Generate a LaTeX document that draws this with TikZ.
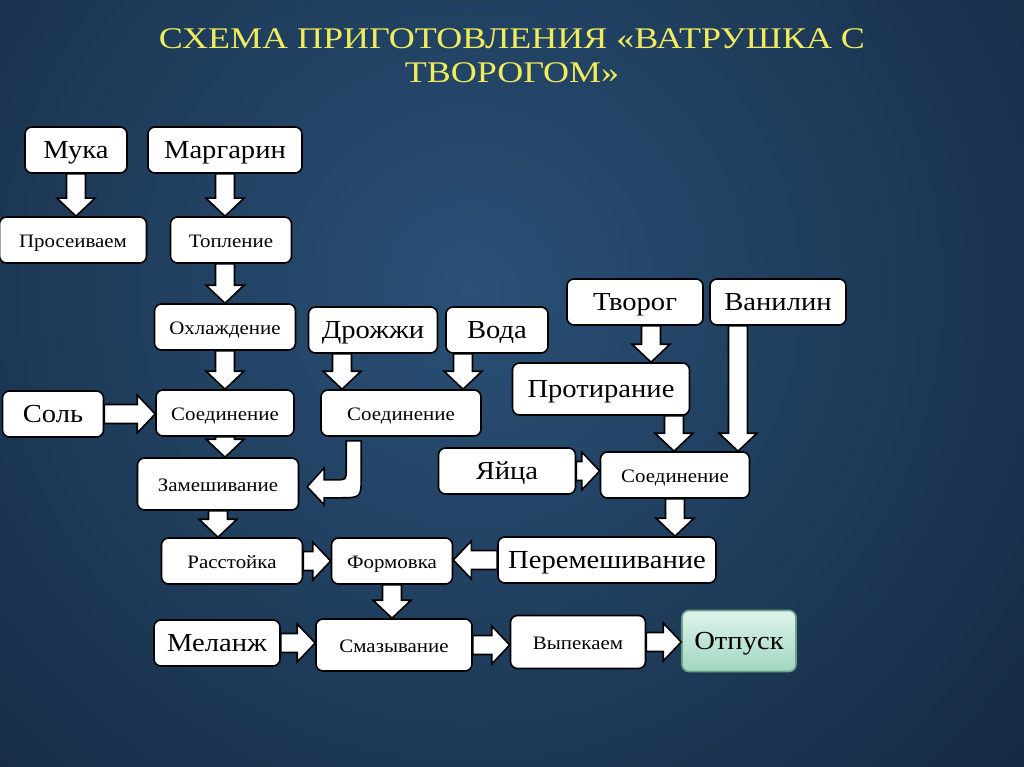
\documentclass[tikz,border=0pt]{standalone}
\usepackage{fontspec}
\setmainfont[FakeStretch=1.1]{Liberation Serif}
\newfontfamily\ttlfont[FakeStretch=1.2]{Liberation Serif}
\usetikzlibrary{calc}

\definecolor{ttlyel}{RGB}{241,236,92}
\definecolor{bgin}{RGB}{42,80,118}
\definecolor{bgout}{RGB}{9,20,36}
\definecolor{mintT}{RGB}{222,244,235}
\definecolor{mintB}{RGB}{160,214,192}

% block arrow from #1 to #2 (coordinates, no parentheses)
\newcommand{\blockar}[2]{%
  \coordinate (ba) at (#1);
  \coordinate (bb) at (#2);
  \coordinate (bh) at ($(bb)!18pt!(ba)$);
  \draw[barr] ($(ba)!9.5pt!90:(bb)$) -- ($(bh)!9.5pt!90:(bb)$)
    -- ($(bh)!19pt!90:(bb)$) -- (bb) -- ($(bh)!19pt!-90:(bb)$)
    -- ($(bh)!9.5pt!-90:(bb)$) -- ($(ba)!9.5pt!-90:(bb)$) -- cycle;
}

\tikzset{
  box/.style={draw=black, line width=1.6pt, fill=white, rounded corners=7pt,
    minimum height=46pt, inner sep=2pt, text=black},
  big/.style={font=\fontsize{26}{28}\selectfont, text height=20pt, text depth=3pt},
  sml/.style={font=\fontsize{19}{22}\selectfont, text height=17pt, text depth=2pt},
  otp/.style={draw={rgb,255:red,110;green,160;blue,140}, top color=mintT, bottom color=mintB},
  barr/.style={draw=black, line width=1.6pt, fill=white, line join=miter},
  ttl/.style={text=ttlyel, align=center, font=\ttlfont\fontsize{30}{34}\selectfont}
}

\begin{document}
\begin{tikzpicture}[x=1pt,y=-1pt]

\useasboundingbox (0,0) rectangle (1024,767);
\begin{scope}
\clip (0,0) rectangle (1024,767);
\fill[bgout] (0,0) rectangle (1024,767);
\shade[inner color=bgin, outer color=bgout] (470,290) circle (1150);
\end{scope}

\node[ttl] (title) at (512,56) {СХЕМА ПРИГОТОВЛЕНИЯ «ВАТРУШКА С\\ТВОРОГОМ»};

% dough
\node[box,big,minimum width=102] (muka) at (76,150) {Мука};
\node[box,big,minimum width=154] (marg) at (225,150) {Маргарин};
\node[box,sml,minimum width=147] (pros) at (73,240) {Просеиваем};
\node[box,sml,minimum width=121] (topl) at (231,240) {Топление};
\node[box,sml,minimum width=141] (ohl) at (225,327) {Охлаждение};
\node[box,big,minimum width=129] (drozh) at (373,330) {Дрожжи};
\node[box,big,minimum width=102] (voda) at (497,330) {Вода};
\node[box,big,minimum width=101] (sol) at (53,414) {Соль};
\node[box,sml,minimum width=138] (soed1) at (225,413) {Соединение};
\node[box,sml,minimum width=160] (soed2) at (401,413) {Соединение};
\node[box,sml,minimum width=161,minimum height=52] (zam) at (218,484) {Замешивание};
\node[box,sml,minimum width=141] (rast) at (232,561) {Расстойка};
\node[box,sml,minimum width=121] (form) at (392,561) {Формовка};

% filling
\node[box,big,minimum width=136] (tvor) at (635,302) {Творог};
\node[box,big,minimum width=136] (van) at (778,302) {Ванилин};
\node[box,big,minimum width=177,minimum height=52] (prot) at (601,389) {Протирание};
\node[box,big,minimum width=137] (yai) at (507,471) {Яйца};
\node[box,sml,minimum width=149] (soed3) at (675,475) {Соединение};
\node[box,big,minimum width=218] (perem) at (607,560) {Перемешивание};

% finishing
\node[box,big,minimum width=126] (mel) at (217,643) {Меланж};
\node[box,sml,minimum width=156,minimum height=52] (smaz) at (394,645) {Смазывание};
\node[box,sml,minimum width=135,minimum height=53] (vyp) at (578,642) {Выпекаем};
\node[box,big,otp,minimum width=114,minimum height=61] (otp) at (739,641) {Отпуск};

\coordinate (xdr) at (342,0);
\coordinate (xvo) at (463,0);
\coordinate (xtv) at (651,0);
\coordinate (xva) at (738,0);
\coordinate (xpr) at (674,0);

\blockar{muka.south}{muka.south |- pros.north}
\blockar{marg.south}{marg.south |- topl.north}
\blockar{ohl.north |- topl.south}{ohl.north}
\blockar{ohl.south}{ohl.south |- soed1.north}
\blockar{soed1.south}{soed1.south |- zam.north}
\blockar{zam.south}{zam.south |- rast.north}
\blockar{xdr |- drozh.south}{xdr |- soed2.north}
\blockar{xvo |- voda.south}{xvo |- soed2.north}
\blockar{sol.east}{sol.east -| soed1.west}
\blockar{xtv |- tvor.south}{xtv |- prot.north}
\blockar{xva |- van.south}{xva |- soed3.north}
\blockar{xpr |- prot.south}{xpr |- soed3.north}
\blockar{yai.east}{yai.east -| soed3.west}
\blockar{soed3.south}{soed3.south |- perem.north}
\blockar{rast.east}{rast.east -| form.west}
\blockar{perem.west}{perem.west -| form.east}
\blockar{form.south}{form.south |- smaz.north}
\blockar{mel.east}{mel.east -| smaz.west}
\blockar{smaz.east}{smaz.east -| vyp.west}
\blockar{vyp.east}{vyp.east -| otp.west}

% bent arrow soed2 -> zam
\draw[barr] ($(soed2.south west)+(26,4)$) -- ++(0,29)
  .. controls +(0,10) .. ++(-10,10) -- ++(-12,0) -- ++(0,-12)
  -- ++(-17,19) -- ++(17,18) -- ++(0,-7) -- ++(15,0)
  .. controls +(22,0) .. ++(22,-22) -- ++(0,-35) -- cycle;

\end{tikzpicture}
\end{document}
